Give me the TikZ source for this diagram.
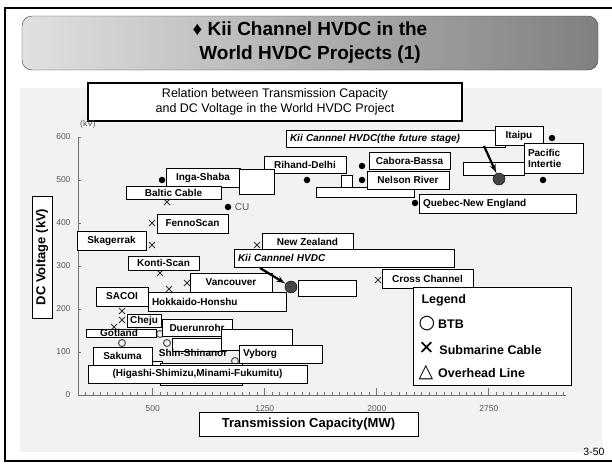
\documentclass[tikz,border=0pt]{standalone}
\usepackage{fontspec}
\setmainfont{Liberation Sans}
\newfontfamily\symfont{DejaVu Sans}
\usetikzlibrary{arrows,calc,shapes,positioning}

\newcommand{\lblfont}{\bfseries\fontsize{10}{11}\selectfont}
\newcommand{\kiifont}{\bfseries\itshape\fontsize{10}{11}\selectfont}
\newcommand{\tickfont}{\fontsize{8.5}{9}\selectfont}
\newcommand{\legsym}{\symfont\mdseries\fontsize{19}{14}\selectfont}

\begin{document}
\begin{tikzpicture}[
    x = 1pt,
    y = -1pt
  ]
  \tikzstyle{lbl}    = [draw, fill=white, inner sep=1pt, font=\lblfont, text centered]
  \tikzstyle{lbll}   = [lbl, align=left, inner xsep=4pt]
  \tikzstyle{kiilbl} = [lbll, font=\kiifont]
  \tikzstyle{blank}  = [draw, fill=white, inner sep=0pt]
  \tikzstyle{dot}    = [circle, fill=black, inner sep=0pt, minimum size=6.5pt]
  \tikzstyle{bigdot} = [circle, draw=black, fill=black!72, inner sep=0pt, minimum size=12pt]
  \tikzstyle{xmark}  = [cross out, draw=black!80, line width=1pt, inner sep=0pt, minimum size=5pt]
  \tikzstyle{omark}  = [circle, draw=black!65, line width=1.1pt, inner sep=0pt, minimum size=7pt]
  \tikzstyle{axis}   = [draw=black!55, line width=0.8pt]
  \tikzstyle{arrow}  = [draw, line width=2.2pt, -latex']
  \tikzstyle{axlbl}  = [draw, fill=white, inner sep=2pt, font=\bfseries\fontsize{13}{15}\selectfont]
  \tikzstyle{legitem} = [anchor=west, font=\bfseries\fontsize{12.5}{14}\selectfont]

  \useasboundingbox (0,0) rectangle (612,464);
  \fill [white] (0,0) rectangle (612,464);
  \draw [line width=2pt] (612,8) -- (5,8) -- (5,461) -- (612,461);

  \node [draw=black!75, rounded corners=10pt, left color=black!12, right color=black!50,
         minimum width=576pt, minimum height=54pt, align=center,
         font=\bfseries\fontsize{19}{24}\selectfont] (title) at (310,43)
        {♦ Kii Channel HVDC in the\\World HVDC Projects (1)};

  \fill [black!5] (20,88) rectangle (602,452);

  \node [draw, line width=1.5pt, fill=white, minimum width=374pt, minimum height=38pt,
         align=center, font=\fontsize{12.5}{15}\selectfont] (subtitle) at (275,102)
        {Relation between Transmission Capacity\\and DC Voltage in the World HVDC Project};

  \path [axis] (78,137) -- (78,395) -- (566,395);
  \foreach \v/\t in {0/0,1/100,2/200,3/300,4/400,5/500,6/600} {
    \path [axis] (78,{395-43*\v}) -- ++(3,0);
    \node [anchor=east, text=black!65, font=\tickfont] at (74,{395-43*\v}) {\t};
  }
  \foreach \i in {1,...,65}
    \path [axis] ({78+7.47*\i},395) -- ++(0,-3);
  \foreach \v in {500,1250,2000,2750} {
    \path [axis] ({78+0.1494*\v},395) -- ++(0,-7);
    \node [text=black!65, font=\tickfont] at ({78+0.1494*\v},409) {\v};
  }
  \node [text=black!65, font=\tickfont] (kvunit) at (88,124) {(kV)};

  \node [axlbl, rotate=90, minimum width=122pt, minimum height=20pt] (ylabel) at (42,257) {DC Voltage (kV)};
  \node [axlbl, minimum width=219pt, minimum height=24pt] (xlabel) at (308.5,424.5) {Transmission Capacity(MW)};

  \node [dot]    (ingadot)    at (162,180) {};
  \node [dot]    (rihanddot)  at (307,180) {};
  \node [dot]    (cudot)      at (228,207) {};
  \node [dot]    (caboradot)  at (362,166) {};
  \node [dot]    (nelsondot)  at (362,180) {};
  \node [dot]    (quebecdot)  at (415,203) {};
  \node [dot]    (itaipudot)  at (552,138) {};
  \node [dot]    (pacificdot) at (543,180) {};
  \node [right=0pt of cudot, text=black!65, font=\fontsize{10}{11}\selectfont] (cu) {CU};

  \node [xmark]  (balticx)    at (167,202) {};
  \node [xmark]  (fennox)     at (152,223) {};
  \node [xmark]  (skagx)      at (152,245) {};
  \node [xmark]  (zealandx)   at (257,245) {};
  \node [xmark]  (kontix)     at (160,273) {};
  \node [xmark]  (vancouverx) at (187,283) {};
  \node [xmark]  (hokkaidox)  at (169,289) {};
  \node [xmark]  (sacoix)     at (122,311) {};
  \node [xmark]  (chejux)     at (122,320) {};
  \node [xmark]  (gotlandx)   at (114,327) {};
  \node [xmark]  (channelx)   at (378,280) {};

  \node [omark]  (duerno)     at (160,334) {};
  \node [omark]  (sakumao)    at (122,343) {};
  \node [omark]  (shinano)    at (167,343) {};
  \node [omark]  (vyborgo)    at (235,361) {};

  \node [lbl, minimum width=74pt, minimum height=19pt]  (ingashaba)   at (203,177.5)   {Inga-Shaba};
  \node [lbl, minimum width=82pt, minimum height=17pt]  (rihanddelhi) at (305,164.5)   {Rihand-Delhi};
  \node [blank, minimum width=35pt, minimum height=25pt] (ingablank)  at (256.5,181.5) {};
  \node [lbl, minimum width=95pt, minimum height=13pt]  (balticcable) at (173.5,193)   {Baltic Cable};
  \node [lbl, minimum width=71pt, minimum height=19pt]  (fennoscan)   at (192.5,223.5) {FennoScan};
  \node [lbl, minimum width=69pt, minimum height=19pt]  (skagerrak)   at (111.5,240.5) {Skagerrak};
  \node [lbl, minimum width=91pt, minimum height=17pt]  (newzealand)  at (307.5,241.5) {New Zealand};
  \node [kiilbl, text width=212pt, minimum height=18pt] (kiinow)      at (344,258)     {Kii Cannnel HVDC};
  \node [blank, minimum width=58pt, minimum height=16pt] (kiiblank)   at (327,288)     {};
  \node [lbl, minimum width=71pt, minimum height=14pt]  (kontiscan)   at (163.5,263)   {Konti-Scan};
  \node [lbl, minimum width=82pt, minimum height=19pt]  (vancouver)   at (231,282.5)   {Vancouver};
  \node [lbl, minimum width=52pt, minimum height=19pt]  (sacoi)       at (122,296.5)   {SACOI};
  \node [lbll, text width=130pt, minimum height=19pt]   (hokkaido)    at (217,301.5)   {Hokkaido-Honshu};
  \node [lbl, minimum width=34pt, minimum height=13pt]  (cheju)       at (144,320.5)   {Cheju};
  \node [blank, minimum width=70pt, minimum height=8pt] (gotlandbox)  at (121,333)     {};
  \node [font=\lblfont, inner sep=0pt]                  (gotland)     at (119,333)     {Gotland};
  \node [lbl, minimum width=70pt, minimum height=17pt]  (duerunrohr)  at (197,327.5)   {Duerunrohr};
  \node [blank, minimum width=51pt, minimum height=13pt] (shinblank)  at (197.5,344.5) {};
  \node [blank, minimum width=71pt, minimum height=21pt] (duerblank)  at (256.5,339.5) {};
  \node [font=\lblfont, inner sep=0pt]                  (shinshinano) at (193,353)     {Shin-Shinanor};
  \node [lbll, text width=75pt, minimum height=18pt]    (vyborg)      at (280.5,354)   {Vyborg};
  \node [lbl, minimum width=59pt, minimum height=18pt]  (sakuma)      at (122.5,356)   {Sakuma};
  \node [blank, minimum width=10pt, minimum height=6pt] (sakumablank) at (157,364)     {};
  \node [blank, minimum width=82pt, minimum height=22pt] (higablank)  at (201,374)     {};
  \node [lbl, minimum width=219pt, minimum height=18pt] (higashi)     at (197.5,374)   {(Higashi-Shimizu,Minami-Fukumitu)};

  \node [kiilbl, text width=211pt, minimum height=17pt] (kiifuture)   at (395.5,138.5) {Kii Cannnel HVDC(the future stage)};
  \node [lbl, minimum width=48pt, minimum height=19pt]  (itaipu)      at (519,135.5)   {Itaipu};
  \node [lbll, text width=51pt, minimum height=30pt]    (pacific)     at (553.5,158)   {Pacific\\Intertie};
  \node [blank, minimum width=61pt, minimum height=13pt] (futureblank) at (493.5,168.5) {};
  \node [lbl, minimum width=81pt, minimum height=17pt]  (cabora)      at (409.5,160.5) {Cabora-Bassa};
  \node [blank, minimum width=98pt, minimum height=10pt] (longblank)  at (365,192)     {};
  \node [blank, minimum width=11pt, minimum height=12pt] (smallblank) at (346.5,181)   {};
  \node [lbl, minimum width=82pt, minimum height=18pt]  (nelson)      at (408,180)     {Nelson River};
  \node [lbll, text width=149pt, minimum height=19pt]   (quebec)      at (497.5,203.5) {Quebec-New England};
  \node [lbl, minimum width=91pt, minimum height=19pt]  (crosschannel) at (427.5,278.5) {Cross Channel};

  \node [bigdot] (kiidot)       at (291,287) {};
  \node [bigdot] (kiifuturedot) at (499,179) {};
  \coordinate (kiitail)       at (260,268);
  \coordinate (kiifuturetail) at (484,146);
  \path [arrow] (kiitail) -- (kiidot);
  \path [arrow] (kiifuturetail) -- (kiifuturedot);

  \node [draw, fill=white, minimum width=158pt, minimum height=98pt] (legend) at (492,336) {};
  \node [legitem] (legtitle) at (418,300) {Legend};
  \node [legitem] (legbtb)   at (415,324) {{\legsym ○}\hspace{3pt}BTB};
  \node [legitem] (legcable) at (415,348) {{\legsym ✕}\hspace{5pt}Submarine Cable};
  \node [legitem] (legline)  at (415,373) {{\legsym △}\hspace{5pt}Overhead Line};

  \node [anchor=east, font=\fontsize{10.5}{12}\selectfont] (pagenum) at (608,452) {3-50};
\end{tikzpicture}
\end{document}
